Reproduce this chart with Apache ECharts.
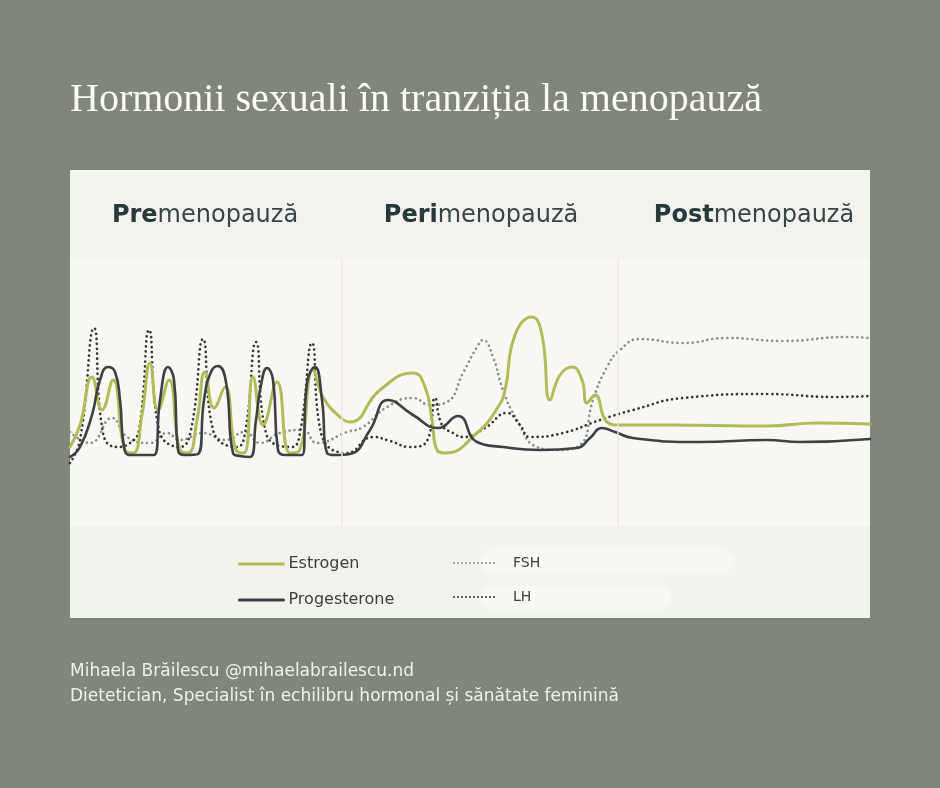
<!DOCTYPE html>
<html><head><meta charset="utf-8">
<script src="https://cdn.jsdelivr.net/npm/echarts@6/dist/echarts.min.js"></script>
<style>html,body{margin:0;padding:0;background:#80867a;}#c{width:940px;height:788px;}</style>
</head><body><div id="c"></div>
<script>
// x: time along the transition (0-800), y: relative hormone level (0-265)
const phases = ['Pre', 'Peri', 'Post'];
const phaseSuffix = 'menopauză';
const phaseBoundaries = [272, 548];

const estrogen = [[0,78],[10,100],[22,148],[32,115],[43,145],[55,75],[63,72],[72,110],[80,162],[88,115],[99,145],[110,75],[118,72],[127,105],[135,153],[144,117],[155,138],[166,75],[174,72],[183,148],[193,100],[207,143],[220,72],[229,74],[243,155],[253,128],[270,108],[280,103],[310,135],[343,152],[355,138],[362,105],[367,75],[375,72],[407,92],[428,118],[435,135],[445,190],[462,208],[472,190],[480,125],[490,150],[502,158],[512,145],[517,122],[525,130],[537,103],[550,100],[600,100],[697,99],[747,102],[800,101]];

const progesteron = [[0,68],[10,78],[22,110],[30,145],[38,158],[45,153],[50,125],[54,78],[60,70],[84,70],[90,125],[98,158],[104,145],[108,75],[114,70],[128,71],[134,125],[141,153],[148,159],[156,143],[163,72],[170,69],[180,68],[186,105],[191,140],[197,157],[203,145],[208,75],[215,70],[232,70],[237,142],[245,158],[252,125],[257,72],[265,70],[280,71],[300,95],[318,125],[343,110],[368,97],[388,109],[407,83],[433,78],[470,75],[507,77],[520,87],[532,97],[545,93],[563,87],[630,83],[697,85],[730,83],[800,86]];

const fsh = [[0,93],[20,82],[42,107],[57,88],[80,82],[97,92],[110,85],[133,92],[155,85],[175,93],[190,82],[210,92],[233,95],[247,82],[277,93],[293,98],[317,118],[343,127],[360,120],[377,123],[393,152],[407,178],[413,185],[423,168],[433,135],[447,105],[467,78],[487,75],[510,80],[523,125],[537,158],[550,175],[570,186],[613,182],[657,187],[713,184],[777,188],[800,187]];

const lh = [[0,62],[10,85],[24,197],[33,92],[47,78],[60,82],[69,95],[79,195],[89,95],[110,78],[121,95],[133,186],[143,95],[167,78],[175,92],[186,183],[196,92],[222,78],[230,92],[242,182],[251,92],[277,72],[303,88],[320,84],[340,78],[358,86],[365,127],[372,100],[383,92],[393,88],[415,97],[437,112],[450,100],[460,88],[493,92],[530,105],[563,115],[613,127],[697,131],[763,128],[800,129]];

const chart = echarts.init(document.getElementById('c'));
const dotted = [0.01, 5];
const headerRich = {
  b: {fontFamily: 'DejaVu Sans', fontWeight: 'bold', fontSize: 24, fill: '#26393d', color: '#26393d'},
  n: {fontFamily: 'DejaVu Sans', fontWeight: 'normal', fontSize: 24, fill: '#34474b', color: '#34474b'}
};
const headerX = [205, 481, 754];
const graphics = [
  {type: 'rect', shape: {x: 70, y: 170, width: 800, height: 448}, style: {fill: '#f9f7f4'}, z: -10},
  {type: 'rect', shape: {x: 70, y: 170, width: 800, height: 89}, style: {fill: '#f4f2ed'}, z: -9},
  {type: 'rect', shape: {x: 70, y: 526, width: 800, height: 92}, style: {fill: '#f3f1ec'}, z: -9},
  {type: 'rect', shape: {x: 482, y: 550, width: 250, height: 22, r: 11}, style: {fill: '#f8f7f3', shadowBlur: 8, shadowColor: '#f9f8f5'}, z: -8},
  {type: 'rect', shape: {x: 482, y: 586, width: 188, height: 22, r: 11}, style: {fill: '#f8f7f3', shadowBlur: 8, shadowColor: '#f9f8f5'}, z: -8},
  {type: 'text', x: 70, y: 100, style: {text: 'Hormonii sexuali în tranziția la menopauză', font: '40px "Liberation Serif"', fill: '#fbfaf4', textVerticalAlign: 'middle'}},
  {type: 'text', x: 70, y: 672, style: {text: 'Mihaela Brăilescu @mihaelabrailescu.nd', font: '17px "DejaVu Sans"', fill: '#f1f0ea', textVerticalAlign: 'middle'}},
  {type: 'text', x: 70, y: 697, style: {text: 'Dietetician, Specialist în echilibru hormonal și sănătate feminină', font: '17px "DejaVu Sans"', fill: '#f1f0ea', textVerticalAlign: 'middle'}}
];
phases.forEach((p, i) => {
  graphics.push({type: 'text', x: headerX[i], y: 216, style: {text: '{b|' + p + '}{n|' + phaseSuffix + '}', rich: headerRich, align: 'center', verticalAlign: 'middle'}});
});

function lineSeries(name, data, color, width, type) {
  return {name, type: 'line', data, smooth: 0.5, symbol: 'none',
    lineStyle: {color, width, type, cap: 'round'}, itemStyle: {color}, z: 3};
}

chart.setOption({
  backgroundColor: '#80867a',
  animation: false,
  grid: {left: 70, right: 70, top: 260, bottom: 263},
  xAxis: {type: 'value', min: 0, max: 800, show: false},
  yAxis: {type: 'value', min: 0, max: 265, show: false},
  graphic: graphics,
  legend: [
    {data: ['Estrogen', 'Progesterone'], orient: 'vertical', left: 233, top: 551, itemWidth: 44, itemHeight: 14, itemGap: 20,
     itemStyle: {opacity: 0}, lineStyle: {width: 3},
     textStyle: {fontFamily: 'DejaVu Sans', fontSize: 16, color: '#3b4042', padding: [0,0,0,0]}},
    {data: ['FSH', 'LH'], orient: 'vertical', left: 448, top: 551, itemWidth: 44, itemHeight: 14, itemGap: 20,
     itemStyle: {opacity: 0}, lineStyle: {width: 2, type: [0.01, 4]},
     textStyle: {fontFamily: 'DejaVu Sans', fontSize: 14, color: '#3b4042', padding: [0,0,0,10]}}
  ],
  series: [
    Object.assign(lineSeries('FSH', fsh, '#7f958c', 2.7, dotted), {
      markLine: {silent: true, symbol: 'none', label: {show: false},
        lineStyle: {color: '#ebe7e0', width: 1.5, type: 'solid'},
        data: phaseBoundaries.map(v => ({xAxis: v}))}
    }),
    lineSeries('LH', lh, '#36352f', 2.7, dotted),
    lineSeries('Estrogen', estrogen, '#b3bb59', 3, 'solid'),
    lineSeries('Progesterone', progesteron, '#3c4244', 2.6, 'solid')
  ]
});
</script>
</body></html>
